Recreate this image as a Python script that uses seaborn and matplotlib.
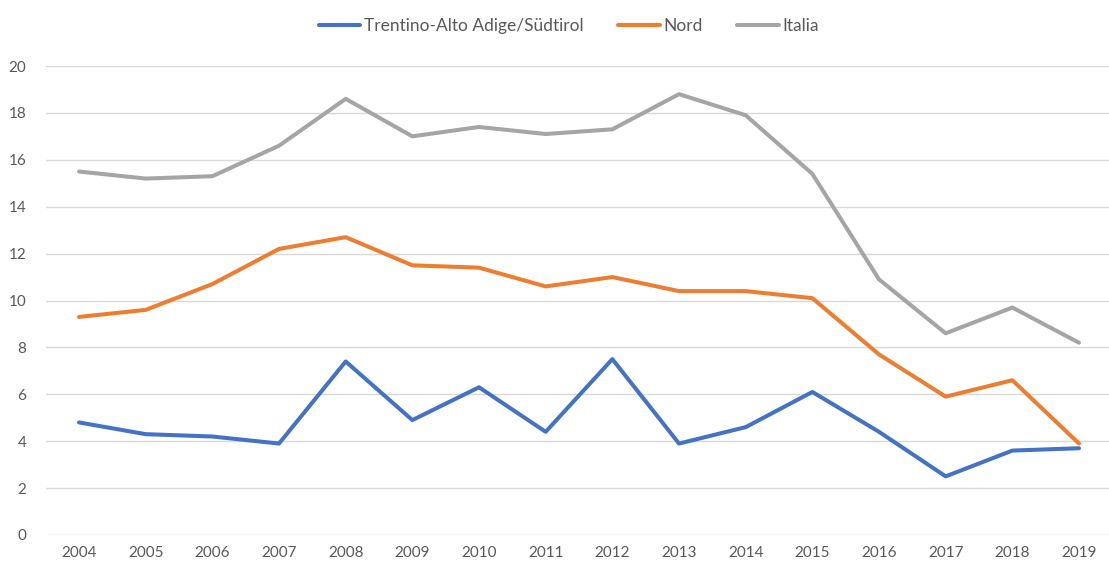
import pandas as pd
import matplotlib
matplotlib.use('Agg')
import matplotlib.pyplot as plt
import seaborn as sns

# Data
years = [str(y) for y in range(2004, 2020)]
trentino = [4.8, 4.3, 4.2, 3.9, 7.4, 4.9, 6.3, 4.4, 7.5, 3.9, 4.6, 6.1, 4.4, 2.5, 3.6, 3.7]
nord = [9.3, 9.6, 10.7, 12.2, 12.7, 11.5, 11.4, 10.6, 11.0, 10.4, 10.4, 10.1, 7.7, 5.9, 6.6, 3.9]
italia = [15.5, 15.2, 15.3, 16.6, 18.6, 17.0, 17.4, 17.1, 17.3, 18.8, 17.9, 15.4, 10.9, 8.6, 9.7, 8.2]
series_names = ['Trentino-Alto Adige/Südtirol', 'Nord', 'Italia']
colors = ['#4472C4', '#ED7D31', '#A5A5A5']

# Long format for seaborn
df = pd.DataFrame({'Anno': years * 3,
                   'Valore': trentino + nord + italia,
                   'Area': [series_names[0]] * 16 + [series_names[1]] * 16 + [series_names[2]] * 16})
df['pos'] = df['Anno'].map({y: i for i, y in enumerate(years)})

sns.set_style('white')
plt.rcParams['font.family'] = ['Lato', 'DejaVu Sans']

fig = plt.figure(figsize=(11.09, 5.68), dpi=100)
ax = fig.add_axes([0.0412, 0.0581, 0.9588, 0.8257])

sns.lineplot(data=df, x='pos', y='Valore', hue='Area', hue_order=series_names,
             palette=colors, linewidth=2.9, ax=ax, legend=False,
             solid_capstyle='round')

# Axes styling like the Excel original
ax.set_xlim(-0.5, 15.45)
ax.set_ylim(0, 20)
ax.set_yticks(range(0, 21, 2))
ax.set_xticks(range(len(years)))
ax.set_xticklabels(years)
ax.grid(axis='y', color='#D9D9D9', linewidth=1)
ax.set_axisbelow(True)
for s in ax.spines.values():
    s.set_visible(False)
ax.tick_params(axis='both', length=0, labelsize=11, labelcolor='#595959')
ax.tick_params(axis='y', pad=14)
ax.tick_params(axis='x', pad=8)
ax.set_xlabel('')
ax.set_ylabel('')

handles = [plt.Line2D([], [], color=c, linewidth=2.9, solid_capstyle='round') for c in colors]
fig.legend(handles, series_names, loc='center', bbox_to_anchor=(0.513, 0.954), ncol=3,
           frameon=False, fontsize=12.5, labelcolor='#595959', handlelength=2.4,
           handletextpad=0.2, columnspacing=2.0)

plt.savefig('out.png', dpi=100)
